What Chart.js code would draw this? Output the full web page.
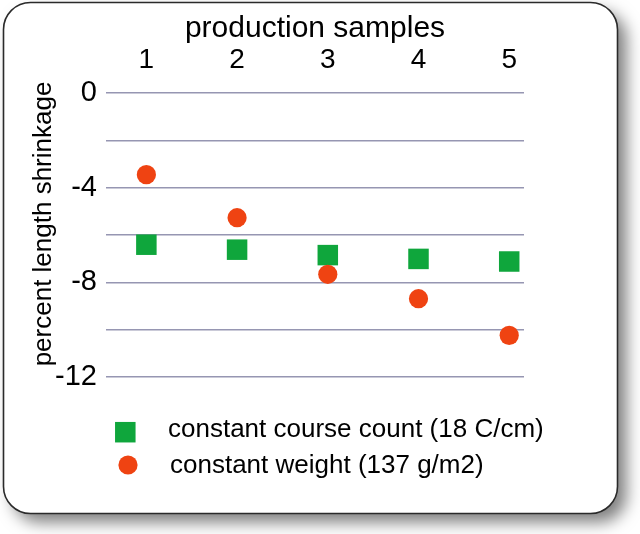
<!DOCTYPE html>
<html>
<head>
<meta charset="utf-8">
<script src="https://cdn.jsdelivr.net/npm/chart.js@4.4.1/dist/chart.umd.min.js"></script>
<style>
html,body{margin:0;padding:0;background:#fff;}
canvas{display:block;}
</style>
</head>
<body>
<canvas id="c" width="640" height="534"></canvas>
<script>
// ---- data ----
const samples = [1, 2, 3, 4, 5];
const courseCount = [-6.41, -6.62, -6.85, -7.01, -7.12];
const constWeight = [-3.45, -5.27, -7.66, -8.69, -10.24];
const yTicks = [0, -2, -4, -6, -8, -10, -12];
const yLabelTicks = [0, -4, -8, -12];
const seriesLabels = ['constant course count (18 C/cm)', 'constant weight (137 g/m2)'];
const xTitle = 'production samples';
const yTitle = 'percent length shrinkage';

const FONT = '"Liberation Sans", Arial, Helvetica, sans-serif';
const GREEN = '#0fa63c';
const RED = '#ef4312';

function roundRectPath(ctx, x, y, w, h, r) {
  ctx.beginPath();
  ctx.moveTo(x + r, y);
  ctx.lineTo(x + w - r, y);
  ctx.arcTo(x + w, y, x + w, y + r, r);
  ctx.lineTo(x + w, y + h - r);
  ctx.arcTo(x + w, y + h, x + w - r, y + h, r);
  ctx.lineTo(x + r, y + h);
  ctx.arcTo(x, y + h, x, y + h - r, r);
  ctx.lineTo(x, y + r);
  ctx.arcTo(x, y, x + r, y, r);
  ctx.closePath();
}

const panelPlugin = {
  id: 'panel',
  beforeDraw(chart) {
    const ctx = chart.ctx;
    ctx.save();
    roundRectPath(ctx, 3.5, 2.5, 614, 511, 27);
    ctx.shadowColor = 'rgba(0,0,0,0.5)';
    ctx.shadowBlur = 16;
    ctx.shadowOffsetX = 9;
    ctx.shadowOffsetY = 9;
    ctx.fillStyle = '#ffffff';
    ctx.fill();
    ctx.shadowColor = 'rgba(0,0,0,0)';
    ctx.lineWidth = 1.6;
    ctx.strokeStyle = '#2a2a2a';
    ctx.stroke();
    ctx.restore();
  },
  afterDraw(chart) {
    const ctx = chart.ctx;
    ctx.save();
    // y axis title
    ctx.fillStyle = '#000';
    ctx.font = '26px ' + FONT;
    ctx.textAlign = 'center';
    ctx.textBaseline = 'middle';
    ctx.translate(44, 224);
    ctx.rotate(-Math.PI / 2);
    ctx.fillText(yTitle, 0, 0);
    ctx.restore();

    // legend
    ctx.save();
    const ds = chart.data.datasets;
    const markers = [
      {cx: 125.3, cy: 432.2, tx: 168, ty: 437},
      {cx: 128, cy: 465, tx: 170, ty: 473}
    ];
    ds.forEach((d, i) => {
      const m = markers[i];
      ctx.fillStyle = d.backgroundColor;
      if (d.pointStyle === 'rect') {
        const s = d.pointRadius * Math.SQRT1_2;
        ctx.fillRect(m.cx - s, m.cy - s, 2 * s, 2 * s);
      } else {
        ctx.beginPath();
        ctx.arc(m.cx, m.cy, d.pointRadius, 0, Math.PI * 2);
        ctx.fill();
      }
      ctx.fillStyle = '#000';
      ctx.font = '26px ' + FONT;
      ctx.textAlign = 'left';
      ctx.textBaseline = 'alphabetic';
      ctx.fillText(d.label, m.tx, m.ty);
    });
    ctx.restore();
  }
};

new Chart(document.getElementById('c'), {
  type: 'scatter',
  data: {
    datasets: [
      {
        label: seriesLabels[0],
        data: samples.map((x, i) => ({x: x, y: courseCount[i]})),
        pointStyle: 'rect',
        pointRadius: 14.5,
        backgroundColor: GREEN,
        borderColor: GREEN,
        borderWidth: 0,
        order: 1
      },
      {
        label: seriesLabels[1],
        data: samples.map((x, i) => ({x: x, y: constWeight[i]})),
        pointStyle: 'circle',
        pointRadius: 9.6,
        backgroundColor: RED,
        borderColor: RED,
        borderWidth: 0,
        order: 0
      }
    ]
  },
  options: {
    responsive: false,
    animation: false,
    devicePixelRatio: 1,
    layout: {padding: {left: 0, top: 0, right: 116, bottom: 157}},
    plugins: {legend: {display: false}, tooltip: {enabled: false}},
    scales: {
      x: {
        type: 'linear',
        position: 'top',
        min: 0.555,
        max: 5.163,
        afterBuildTicks: s => { s.ticks = samples.map(v => ({value: v})); },
        afterFit: s => { s.height = 93; },
        grid: {display: false, drawTicks: false},
        border: {display: false},
        ticks: {padding: 16, color: '#000', font: {family: FONT, size: 28}, maxRotation: 0, autoSkip: false},
        title: {display: true, text: xTitle, color: '#000', font: {family: FONT, size: 30}, padding: {top: 11, bottom: 0}}
      },
      y: {
        type: 'linear',
        min: -12,
        max: 0,
        afterBuildTicks: s => { s.ticks = yTicks.map(v => ({value: v})); },
        afterFit: s => { s.width = 106; },
        grid: {color: 'rgb(150,150,178)', lineWidth: 1.5, drawTicks: false},
        border: {display: false},
        ticks: {
          padding: 9, color: '#000', font: {family: FONT, size: 29}, autoSkip: false,
          callback: v => yLabelTicks.includes(v) ? String(v) : ''
        }
      }
    }
  },
  plugins: [panelPlugin]
});
</script>
</body>
</html>
